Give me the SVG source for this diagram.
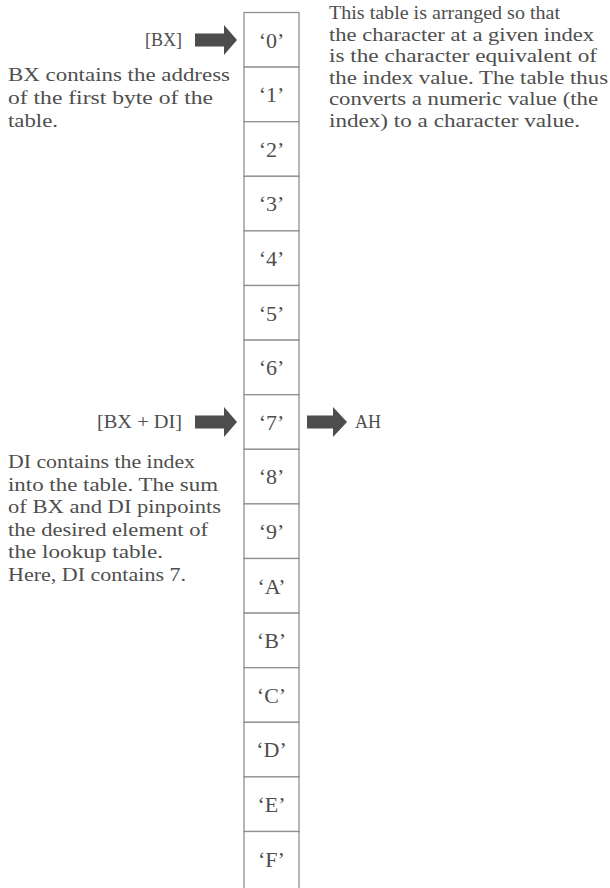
<svg xmlns="http://www.w3.org/2000/svg" width="610" height="888" viewBox="0 0 610 888">
<style>
.t{font-family:"Liberation Serif","DejaVu Serif",serif;font-size:18px;fill:#4e4e4e;}
.c{font-family:"Liberation Serif","DejaVu Serif",serif;font-size:22px;fill:#4e4e4e;text-anchor:middle;}
.cell{fill:#fff;stroke:#909090;stroke-width:1.3;}
.arr{fill:#4d4d4d;}
</style>
<rect width="610" height="888" fill="#fff"/>
<g id="table">
<g id="cell0"><rect class="cell" x="244" y="12.5" width="55" height="54.6"/><text class="c" x="271.5" y="47.5">‘0’</text></g>
<g id="cell1"><rect class="cell" x="244" y="67.1" width="55" height="54.6"/><text class="c" x="271.5" y="102.1">‘1’</text></g>
<g id="cell2"><rect class="cell" x="244" y="121.7" width="55" height="54.6"/><text class="c" x="271.5" y="156.7">‘2’</text></g>
<g id="cell3"><rect class="cell" x="244" y="176.3" width="55" height="54.6"/><text class="c" x="271.5" y="211.3">‘3’</text></g>
<g id="cell4"><rect class="cell" x="244" y="230.9" width="55" height="54.6"/><text class="c" x="271.5" y="265.9">‘4’</text></g>
<g id="cell5"><rect class="cell" x="244" y="285.5" width="55" height="54.6"/><text class="c" x="271.5" y="320.5">‘5’</text></g>
<g id="cell6"><rect class="cell" x="244" y="340.1" width="55" height="54.6"/><text class="c" x="271.5" y="375.1">‘6’</text></g>
<g id="cell7"><rect class="cell" x="244" y="394.7" width="55" height="54.6"/><text class="c" x="271.5" y="429.7">‘7’</text></g>
<g id="cell8"><rect class="cell" x="244" y="449.3" width="55" height="54.6"/><text class="c" x="271.5" y="484.3">‘8’</text></g>
<g id="cell9"><rect class="cell" x="244" y="503.9" width="55" height="54.6"/><text class="c" x="271.5" y="538.9">‘9’</text></g>
<g id="cellA"><rect class="cell" x="244" y="558.5" width="55" height="54.6"/><text class="c" x="271.5" y="593.5">‘A’</text></g>
<g id="cellB"><rect class="cell" x="244" y="613.1" width="55" height="54.6"/><text class="c" x="271.5" y="648.1">‘B’</text></g>
<g id="cellC"><rect class="cell" x="244" y="667.7" width="55" height="54.6"/><text class="c" x="271.5" y="702.7">‘C’</text></g>
<g id="cellD"><rect class="cell" x="244" y="722.3" width="55" height="54.6"/><text class="c" x="271.5" y="757.3">‘D’</text></g>
<g id="cellE"><rect class="cell" x="244" y="776.9" width="55" height="54.6"/><text class="c" x="271.5" y="811.9">‘E’</text></g>
<g id="cellF"><rect class="cell" x="244" y="831.5" width="55" height="64"/><text class="c" x="271.5" y="866.5">‘F’</text></g>
</g>
<g id="connectors">
<polygon class="arr" points="195,33.5 224,33.5 224,25 237,40 224,55 224,46.5 195,46.5"/>
<polygon class="arr" points="195,415.5 224,415.5 224,407 237,422 224,437 224,428.5 195,428.5"/>
<polygon class="arr" points="307,415.5 333,415.5 333,407 347,422 333,437 333,428.5 307,428.5"/>
</g>
<g id="label-bx"><text class="t" x="182" y="46" text-anchor="end">[BX]</text></g>
<g id="label-bxdi"><text class="t" x="182" y="428" text-anchor="end" textLength="85" lengthAdjust="spacingAndGlyphs">[BX + DI]</text></g>
<g id="label-ah"><text class="t" x="355" y="428">AH</text></g>
<g id="note-bx">
<text class="t" x="8" y="81" textLength="222" lengthAdjust="spacingAndGlyphs">BX contains the address</text>
<text class="t" x="8" y="104" textLength="205" lengthAdjust="spacingAndGlyphs">of the first byte of the</text>
<text class="t" x="8" y="127" textLength="50" lengthAdjust="spacingAndGlyphs">table.</text>
</g>
<g id="note-table">
<text class="t" x="329" y="19" textLength="231" lengthAdjust="spacingAndGlyphs">This table is arranged so that</text>
<text class="t" x="329" y="41" textLength="265" lengthAdjust="spacingAndGlyphs">the character at a given index</text>
<text class="t" x="329" y="62" textLength="268" lengthAdjust="spacingAndGlyphs">is the character equivalent of</text>
<text class="t" x="329" y="84" textLength="279" lengthAdjust="spacingAndGlyphs">the index value. The table thus</text>
<text class="t" x="329" y="105" textLength="269" lengthAdjust="spacingAndGlyphs">converts a numeric value (the</text>
<text class="t" x="329" y="127" textLength="251" lengthAdjust="spacingAndGlyphs">index) to a character value.</text>
</g>
<g id="note-di">
<text class="t" x="8" y="468" textLength="187" lengthAdjust="spacingAndGlyphs">DI contains the index</text>
<text class="t" x="8" y="491" textLength="210" lengthAdjust="spacingAndGlyphs">into the table. The sum</text>
<text class="t" x="8" y="513" textLength="213" lengthAdjust="spacingAndGlyphs">of BX and DI pinpoints</text>
<text class="t" x="8" y="536" textLength="200" lengthAdjust="spacingAndGlyphs">the desired element of</text>
<text class="t" x="8" y="558" textLength="155" lengthAdjust="spacingAndGlyphs">the lookup table.</text>
<text class="t" x="8" y="581" textLength="178" lengthAdjust="spacingAndGlyphs">Here, DI contains 7.</text>
</g>
</svg>
